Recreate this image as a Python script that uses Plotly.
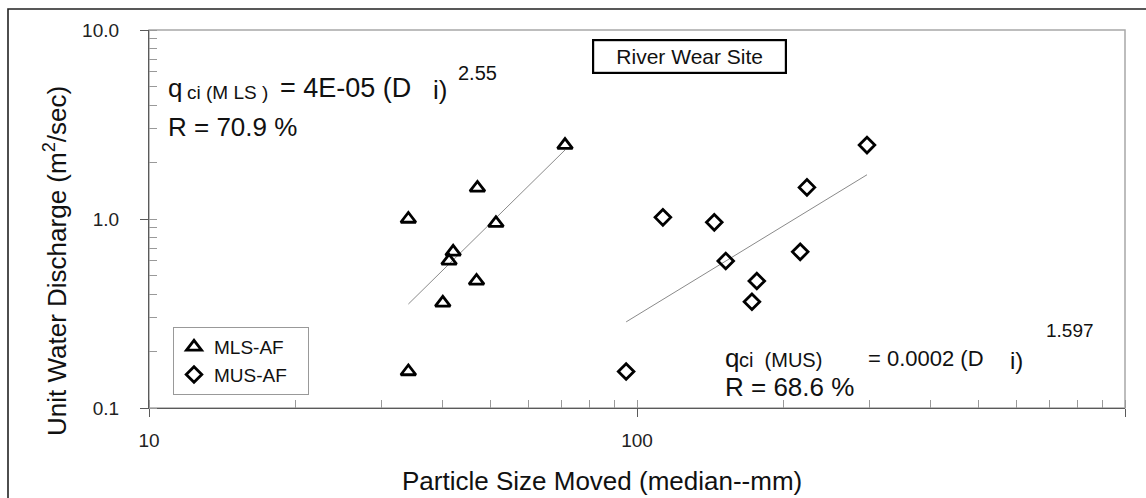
import numpy as np
import plotly.graph_objects as go

# ---- data ----
mls_size = [34.0, 51.4, 42.0, 41.2, 46.9, 40.0, 34.0, 71.2, 47.1]
mls_q = [1.00, 0.95, 0.67, 0.60, 0.47, 0.36, 0.156, 2.46, 1.46]
mus_size = [113.0, 144.0, 152.0, 176.0, 172.0, 95.0, 216.0, 296.0, 223.0]
mus_q = [1.02, 0.96, 0.60, 0.47, 0.365, 0.156, 0.67, 2.46, 1.47]

x_tickvals = [10, 100, 1000]
x_ticktext = ["10", "100", "1000"]
y_tickvals = [0.1, 1, 10]
y_ticktext = ["0.1", "1.0", "10.0"]

FONT = "Arial, Liberation Sans, sans-serif"
W, H = 1146, 498
L, R, T, B = 149, 21, 30, 90
PW, PH = W - L - R, H - T - B


def xp(px):
    return (px - L) / PW


def yp(py):
    return (H - B - py) / PH


def power_fit(x, y):
    lx, ly = np.log10(x), np.log10(y)
    b, a = np.polyfit(lx, ly, 1)
    xs = np.array([min(x), max(x)])
    return xs, 10 ** (a + b * np.log10(xs))


fig = go.Figure()

for xs_, ys_ in [power_fit(mls_size, mls_q), power_fit(mus_size, mus_q)]:
    fig.add_trace(go.Scatter(x=xs_, y=ys_, mode="lines", showlegend=False,
                             line=dict(color="#8a8a8a", width=1), hoverinfo="skip"))

fig.add_trace(go.Scatter(x=mls_size, y=mls_q, mode="markers", name="MLS-AF\u00a0\u00a0\u00a0",
                         marker=dict(symbol="triangle-up-open", size=13, color="black",
                                     line=dict(color="black", width=2.8))))
fig.add_trace(go.Scatter(x=mus_size, y=mus_q, mode="markers", name="MUS-AF\u00a0\u00a0\u00a0",
                         marker=dict(symbol="diamond-open", size=12, color="black",
                                     line=dict(color="black", width=2.8))))

axis_common = dict(type="log", showgrid=False, zeroline=False, showline=True,
                   linecolor="#5a5a5a", linewidth=1.2, ticks="outside", ticklen=8,
                   tickcolor="#5a5a5a", tickfont=dict(family=FONT, size=19, color="#222"),
                   minor=dict(ticks="inside", ticklen=8, tickcolor="#999", dtick="D1", showgrid=False))

fig.update_xaxes(range=[1, 3], tickmode="array", tickvals=x_tickvals, ticktext=x_ticktext,
                 ticklabelstandoff=7, **axis_common)
fig.update_yaxes(range=[-1, 1], tickmode="array", tickvals=y_tickvals, ticktext=y_ticktext,
                 ticklabelstandoff=17, **axis_common)

shapes = [
    # plot area frame (light grey top/right)
    dict(type="rect", xref="paper", yref="paper", x0=0, y0=0, x1=1, y1=1,
         line=dict(color="#a8a8a8", width=1.5), layer="below"),
    # outer chart frame
    dict(type="rect", xref="paper", yref="paper", x0=xp(8), y0=yp(9), x1=1.2, y1=-0.5,
         line=dict(color="#222", width=1.6), layer="below"),
]


def txt(text, px, py, size, anchor="left"):
    return dict(text=text, x=xp(px), y=yp(py), xref="paper", yref="paper", showarrow=False,
                font=dict(family=FONT, size=size, color="#111"), xanchor=anchor, yanchor="middle")


annotations = [
    txt("Particle Size Moved (median--mm)", 602, 481, 26, "center"),
    dict(txt("Unit Water Discharge (m<sup>2</sup>/sec)", 55, 261, 26, "center"), textangle=-90),
    dict(txt("River Wear Site", 689.5, 56.5, 21, "center"),
         bordercolor="black", borderwidth=2.2, borderpad=2, width=187, height=27, bgcolor="white"),
    # MLS equation
    txt("q", 166, 88, 26),
    txt("ci (M LS )", 185, 93, 19),
    txt("= 4E-05 (D", 278, 88, 27),
    txt("i)", 431, 90, 26),
    txt("2.55", 456, 73, 20),
    txt("R = 70.9 %", 166, 127, 26),
    # MUS equation
    txt("q", 723, 358, 26),
    txt("ci\u00a0\u00a0(MUS)", 737, 360, 20),
    txt("= 0.0002 (D", 866, 358, 22),
    txt("i)", 1008, 360, 24),
    txt("1.597", 1044, 330, 19),
    txt("R = 68.6 %", 723, 387, 26),
]

fig.update_layout(
    width=W, height=H,
    margin=dict(l=L, r=R, t=T, b=B),
    paper_bgcolor="white", plot_bgcolor="white",
    font=dict(family=FONT, color="#111"),
    shapes=shapes, annotations=annotations,
    legend=dict(x=xp(173), y=yp(327), xanchor="left", yanchor="top",
                bordercolor="#999", borderwidth=1, bgcolor="white",
                font=dict(family=FONT, size=19, color="#111"),
                itemwidth=30, tracegroupgap=0),
)

fig.write_html("out.html")
